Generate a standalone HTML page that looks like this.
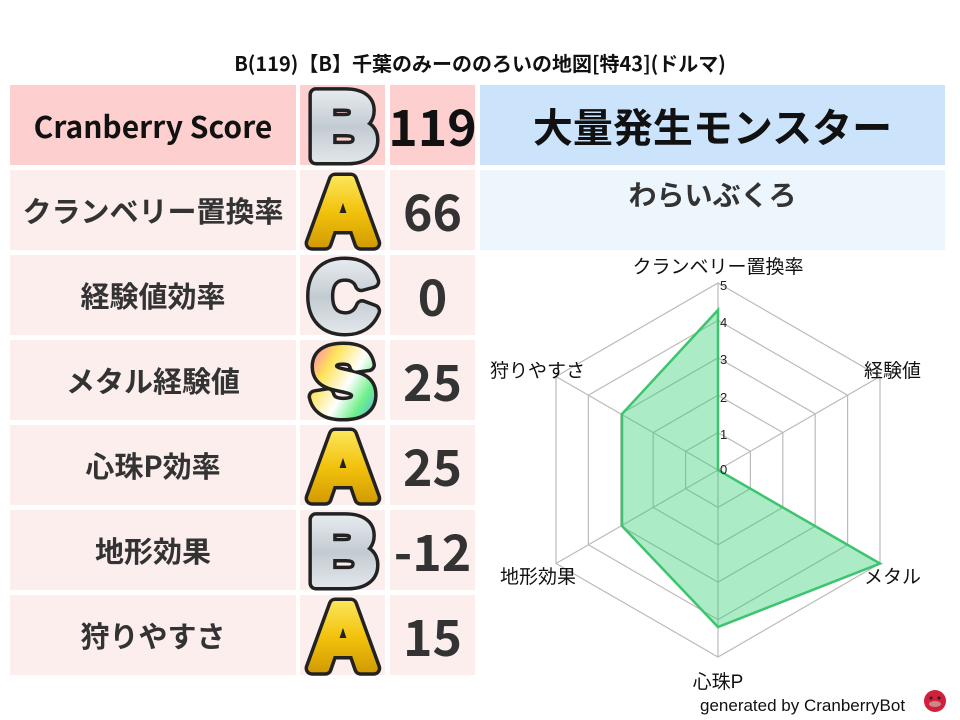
<!DOCTYPE html>
<html><head><meta charset="utf-8"><style>
body{margin:0;width:960px;height:720px;background:#fff;font-family:"Noto Sans CJK JP","Liberation Sans",sans-serif;position:relative;overflow:hidden}
.c{position:absolute;display:flex;align-items:center;justify-content:center;font-weight:bold;color:#333;line-height:1}
.l{left:10px;width:286px;font-size:29px;background:#fdeeee}
.g{left:300px;width:85px;background:#fdeeee}
.v{left:390px;width:85px;font-size:50px;background:#fdeeee}
</style></head><body>
<div class="c" style="left:0;top:48px;width:960px;height:30px;font-size:20px;color:#111">B(119)【B】千葉のみーののろいの地図[特43](ドルマ)</div>

<div class="c l" style="top:85px;height:80px;background:#fdcfcf;color:#111;font-size:30px">Cranberry Score</div>
<div class="c g" style="top:85px;height:80px;background:#fdcfcf"></div>
<div class="c v" style="top:85px;height:80px;background:#fdcfcf;color:#111">119</div>

<div class="c l" style="top:170px;height:80px">クランベリー置換率</div><div class="c g" style="top:170px;height:80px"></div><div class="c v" style="top:170px;height:80px">66</div>
<div class="c l" style="top:255px;height:80px">経験値効率</div><div class="c g" style="top:255px;height:80px"></div><div class="c v" style="top:255px;height:80px">0</div>
<div class="c l" style="top:340px;height:80px">メタル経験値</div><div class="c g" style="top:340px;height:80px"></div><div class="c v" style="top:340px;height:80px">25</div>
<div class="c l" style="top:425px;height:80px">心珠P効率</div><div class="c g" style="top:425px;height:80px"></div><div class="c v" style="top:425px;height:80px">25</div>
<div class="c l" style="top:510px;height:80px">地形効果</div><div class="c g" style="top:510px;height:80px"></div><div class="c v" style="top:510px;height:80px">-12</div>
<div class="c l" style="top:595px;height:80px">狩りやすさ</div><div class="c g" style="top:595px;height:80px"></div><div class="c v" style="top:595px;height:80px">15</div>

<div class="c" style="left:480px;top:85px;width:465px;height:80px;background:#cce4fb;color:#111;font-size:40px">大量発生モンスター</div>
<div class="c" style="left:480px;top:170px;width:465px;height:80px;background:#eef6fd;font-size:28px;align-items:flex-start;padding-top:10px;box-sizing:border-box">わらいぶくろ</div>

<svg width="960" height="720" style="position:absolute;left:0;top:0" font-family="Liberation Sans,Noto Sans CJK JP,sans-serif">
<defs>
<linearGradient id="sil" x1="0" y1="0" x2="0" y2="1"><stop offset="0" stop-color="#f4f7f9"/><stop offset=".5" stop-color="#c3cbd2"/><stop offset="1" stop-color="#eef2f4"/></linearGradient>
<linearGradient id="gold" x1="0" y1="0" x2="0" y2="1"><stop offset="0" stop-color="#fff47a"/><stop offset=".5" stop-color="#f2c20c"/><stop offset="1" stop-color="#c48a00"/></linearGradient>
<linearGradient id="rb" x1="0" y1="0" x2="1" y2="1"><stop offset="0" stop-color="#ff5fd0"/><stop offset=".3" stop-color="#ffe35a"/><stop offset=".55" stop-color="#ffffff"/><stop offset=".75" stop-color="#6ef08a"/><stop offset="1" stop-color="#4aa0ff"/></linearGradient>
<g id="L"></g>
</defs>
<g font-weight="bold" font-size="92" text-anchor="middle" stroke-linejoin="round">
<g stroke="#222" stroke-width="15" fill="#222">
<text x="343" y="158">B</text><text x="343" y="243">A</text><text x="343" y="328">C</text><text x="343" y="413">S</text><text x="343" y="498">A</text><text x="343" y="583">B</text><text x="343" y="668">A</text>
</g>
<text x="343" y="158" fill="url(#sil)" stroke="url(#sil)" stroke-width="8">B</text>
<text x="343" y="243" fill="url(#gold)" stroke="url(#gold)" stroke-width="8">A</text>
<text x="343" y="328" fill="url(#sil)" stroke="url(#sil)" stroke-width="8">C</text>
<text x="343" y="413" fill="url(#rb)" stroke="url(#rb)" stroke-width="8">S</text>
<text x="343" y="498" fill="url(#gold)" stroke="url(#gold)" stroke-width="8">A</text>
<text x="343" y="583" fill="url(#sil)" stroke="url(#sil)" stroke-width="8">B</text>
<text x="343" y="668" fill="url(#gold)" stroke="url(#gold)" stroke-width="8">A</text>
</g>
<g stroke="#bbb" stroke-width="1.2" fill="none">
<polygon points="718,283 880,376.5 880,563.5 718,657 556,563.5 556,376.5"/>
<polygon points="718,320.4 847.6,395.2 847.6,544.8 718,619.6 588.4,544.8 588.4,395.2"/>
<polygon points="718,357.8 815.2,413.9 815.2,526.1 718,582.2 620.8,526.1 620.8,413.9"/>
<polygon points="718,395.2 782.8,432.6 782.8,507.4 718,544.8 653.2,507.4 653.2,432.6"/>
<polygon points="718,432.6 750.4,451.3 750.4,488.7 718,507.4 685.6,488.7 685.6,451.3"/>
<path d="M718,470L718,283M718,470L880,376.5M718,470L880,563.5M718,470L718,657M718,470L556,563.5M718,470L556,376.5"/>
</g>
<polygon points="718,310 718,470 880,563.5 718,627 622,526 622,414" fill="rgba(46,204,113,0.4)" stroke="#3cc46e" stroke-width="2.5"/>
<g font-size="13" fill="#222">
<text x="720" y="290">5</text><text x="720" y="327">4</text><text x="720" y="364">3</text><text x="720" y="402">2</text><text x="720" y="439">1</text><text x="720" y="474">0</text>
</g>
<g font-size="19" fill="#111">
<text x="718" y="273" text-anchor="middle">クランベリー置換率</text>
<text x="864" y="377">経験値</text>
<text x="490" y="377">狩りやすさ</text>
<text x="500" y="583">地形効果</text>
<text x="864" y="583">メタル</text>
<text x="718" y="688" text-anchor="middle">心珠P</text>
<text x="700" y="711" font-size="17">generated by CranberryBot</text>
</g>
<circle cx="935" cy="701" r="11" fill="#d0203c"/>
<ellipse cx="935" cy="704" rx="6" ry="3" fill="#c88"/>
<circle cx="931" cy="698" r="1.5" fill="#222"/><circle cx="939" cy="698" r="1.5" fill="#222"/>
</svg>
</body></html>
